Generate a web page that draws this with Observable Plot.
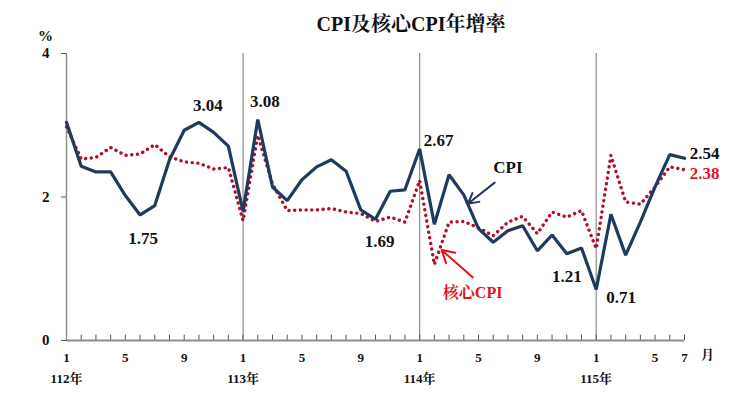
<!DOCTYPE html>
<html><head><meta charset="utf-8">
<script src="https://cdn.jsdelivr.net/npm/d3@7"></script>
<script src="https://cdn.jsdelivr.net/npm/@observablehq/plot@0.6"></script>
<style>
body{margin:0;background:#fff;}
#wrap{position:relative;width:751px;height:416px;}
#title{position:absolute;left:411px;top:8px;transform:translateX(-50%);white-space:nowrap;font:bold 20px "Liberation Serif","Noto Serif CJK TC","Noto Sans CJK TC",serif;color:#111;}
</style></head><body>
<div id="wrap"><div id="title">CPI及核心CPI年增率</div></div>
<script>
// ---- data ----
const years = ["112年","113年","114年","115年"];
const yearStartIdx = [0,12,24,36];
const monthTickIdx = [0,4,8,12,16,20,24,28,32,36,40,42];
const monthTickLabels = ["1","5","9","1","5","9","1","5","9","1","5","7"];
const yTicks = [0,2,4];
const cpi = [3.04,2.43,2.35,2.35,2.02,1.75,1.88,2.52,2.93,3.04,2.90,2.71,
             1.80,3.08,2.14,1.95,2.24,2.42,2.52,2.36,1.82,1.69,2.08,2.10,
             2.67,1.62,2.31,2.03,1.56,1.37,1.53,1.60,1.25,1.47,1.21,1.29,
             0.71,1.76,1.19,1.65,2.14,2.59,2.54];
const core = [2.98,2.53,2.55,2.69,2.58,2.60,2.73,2.56,2.49,2.47,2.39,2.41,
              1.67,2.86,2.18,1.81,1.82,1.82,1.84,1.79,1.77,1.66,1.72,1.65,
              2.23,1.06,1.65,1.66,1.57,1.46,1.65,1.73,1.49,1.79,1.72,1.81,
              1.28,2.58,1.93,1.90,2.14,2.42,2.38];
const cpiCalloutIdx = [9,5,13,21,24,34,36,42];
const coreCalloutIdx = [42];
const seriesNames = ["CPI","核心CPI"];
const cpiArrow = [{x1:29.1,y1:2.20,x2:27.3,y2:1.91}];
const coreArrow = [{x1:27.6,y1:0.88,x2:25.5,y2:1.26}];
const cpiNameAt = [{x:30.0,y:2.41}];
const coreNameAt = [{x:27.6,y:0.67}];

// ---- styling ----
const FONT = '"Liberation Serif","Noto Serif CJK TC","Noto Sans CJK TC",serif';
const NAVY = "#1f3a5f", DOTRED = "#b0102c", RED = "#e3141c", GRAY = "#8c8c8c";
const fmt = d3.format(".2f");
const months = d3.range(cpi.length);
const cpiData = months.map(i => ({i, v: cpi[i]}));
const coreData = months.map(i => ({i, v: core[i]}));

const calloutOffset = {9:[9,-17],5:[3,24],13:[7,-18],21:[4,22],24:[19,-8],34:[0,23],36:[25,8],42:[20,-5]};

const cpiLabelMarks = cpiCalloutIdx.map(i => Plot.text([cpiData[i]], {
  x:"i", y:"v", text: d => fmt(d.v), dx: calloutOffset[i][0], dy: calloutOffset[i][1],
  fontSize:17, fontWeight:"bold", fill:"#111"
}));
const coreLabelMarks = coreCalloutIdx.map(i => Plot.text([coreData[i]], {
  x:"i", y:"v", text: d => fmt(d.v), dx:20, dy:4,
  fontSize:17, fontWeight:"bold", fill:RED
}));

const chart = Plot.plot({
  width: 751, height: 416,
  marginLeft: 66, marginRight: 67, marginTop: 53, marginBottom: 76,
  style: {fontFamily: FONT, background:"#fff", overflow:"visible"},
  x: {domain:[0, cpi.length-1], axis:null},
  y: {domain:[0,4], axis:null},
  marks: [
    Plot.ruleX(yearStartIdx.slice(1), {y1:0, y2:4, stroke:GRAY, strokeWidth:1.2}),
    Plot.ruleX(months, {y1:0, y2:0.075, stroke:"#555", strokeWidth:1}),
    Plot.ruleX([0], {y1:0, y2:4, stroke:GRAY, strokeWidth:1.4}),
    Plot.ruleY([0], {x1:0, x2:cpi.length-1, stroke:GRAY, strokeWidth:1.8}),
    Plot.axisY({ticks:yTicks, tickFormat:d3.format("d"), tickSize:5, tickPadding:12, label:null, stroke:"#555",
      fontSize:15, fontWeight:"bold", fill:"#111"}),
    Plot.axisX({ticks:monthTickIdx, tickFormat:(d)=>monthTickLabels[monthTickIdx.indexOf(d)],
      tickSize:0, tickPadding:12, label:null, fontSize:13, fontWeight:"bold", fill:"#111"}),
    Plot.text(years, {x:(d,k)=>yearStartIdx[k], y:()=>0, text:d=>d, dy:38,
      fontSize:13, fontWeight:"bold", fill:"#111"}),
    Plot.text(["月"], {frameAnchor:"bottom-right", dx:23, dy:18, fontSize:13, fontWeight:"bold", fill:"#111", textAnchor:"middle"}),
    Plot.text(["%"], {frameAnchor:"top-left", dx:-21, dy:-23, fontSize:15, fontWeight:"bold", fill:"#111", textAnchor:"middle"}),
    Plot.line(coreData, {x:"i", y:"v", stroke:DOTRED, strokeWidth:3.4, strokeDasharray:"0.1,5.6", strokeLinecap:"round"}),
    Plot.line(cpiData, {x:"i", y:"v", stroke:NAVY, strokeWidth:3.2, strokeLinejoin:"miter"}),
    ...cpiLabelMarks,
    ...coreLabelMarks,
    Plot.arrow(cpiArrow, {x1:"x1",y1:"y1",x2:"x2",y2:"y2", stroke:NAVY, strokeWidth:2, headLength:12}),
    Plot.arrow(coreArrow, {x1:"x1",y1:"y1",x2:"x2",y2:"y2", stroke:RED, strokeWidth:2, headLength:12}),
    Plot.text(cpiNameAt, {x:"x", y:"y", text:()=>seriesNames[0], fontSize:17, fontWeight:"bold", fill:"#111"}),
    Plot.text(coreNameAt, {x:"x", y:"y", text:()=>seriesNames[1], fontSize:16, fontWeight:"bold", fill:RED})
  ]
});
document.getElementById("wrap").prepend(chart);
</script>
</body></html>
